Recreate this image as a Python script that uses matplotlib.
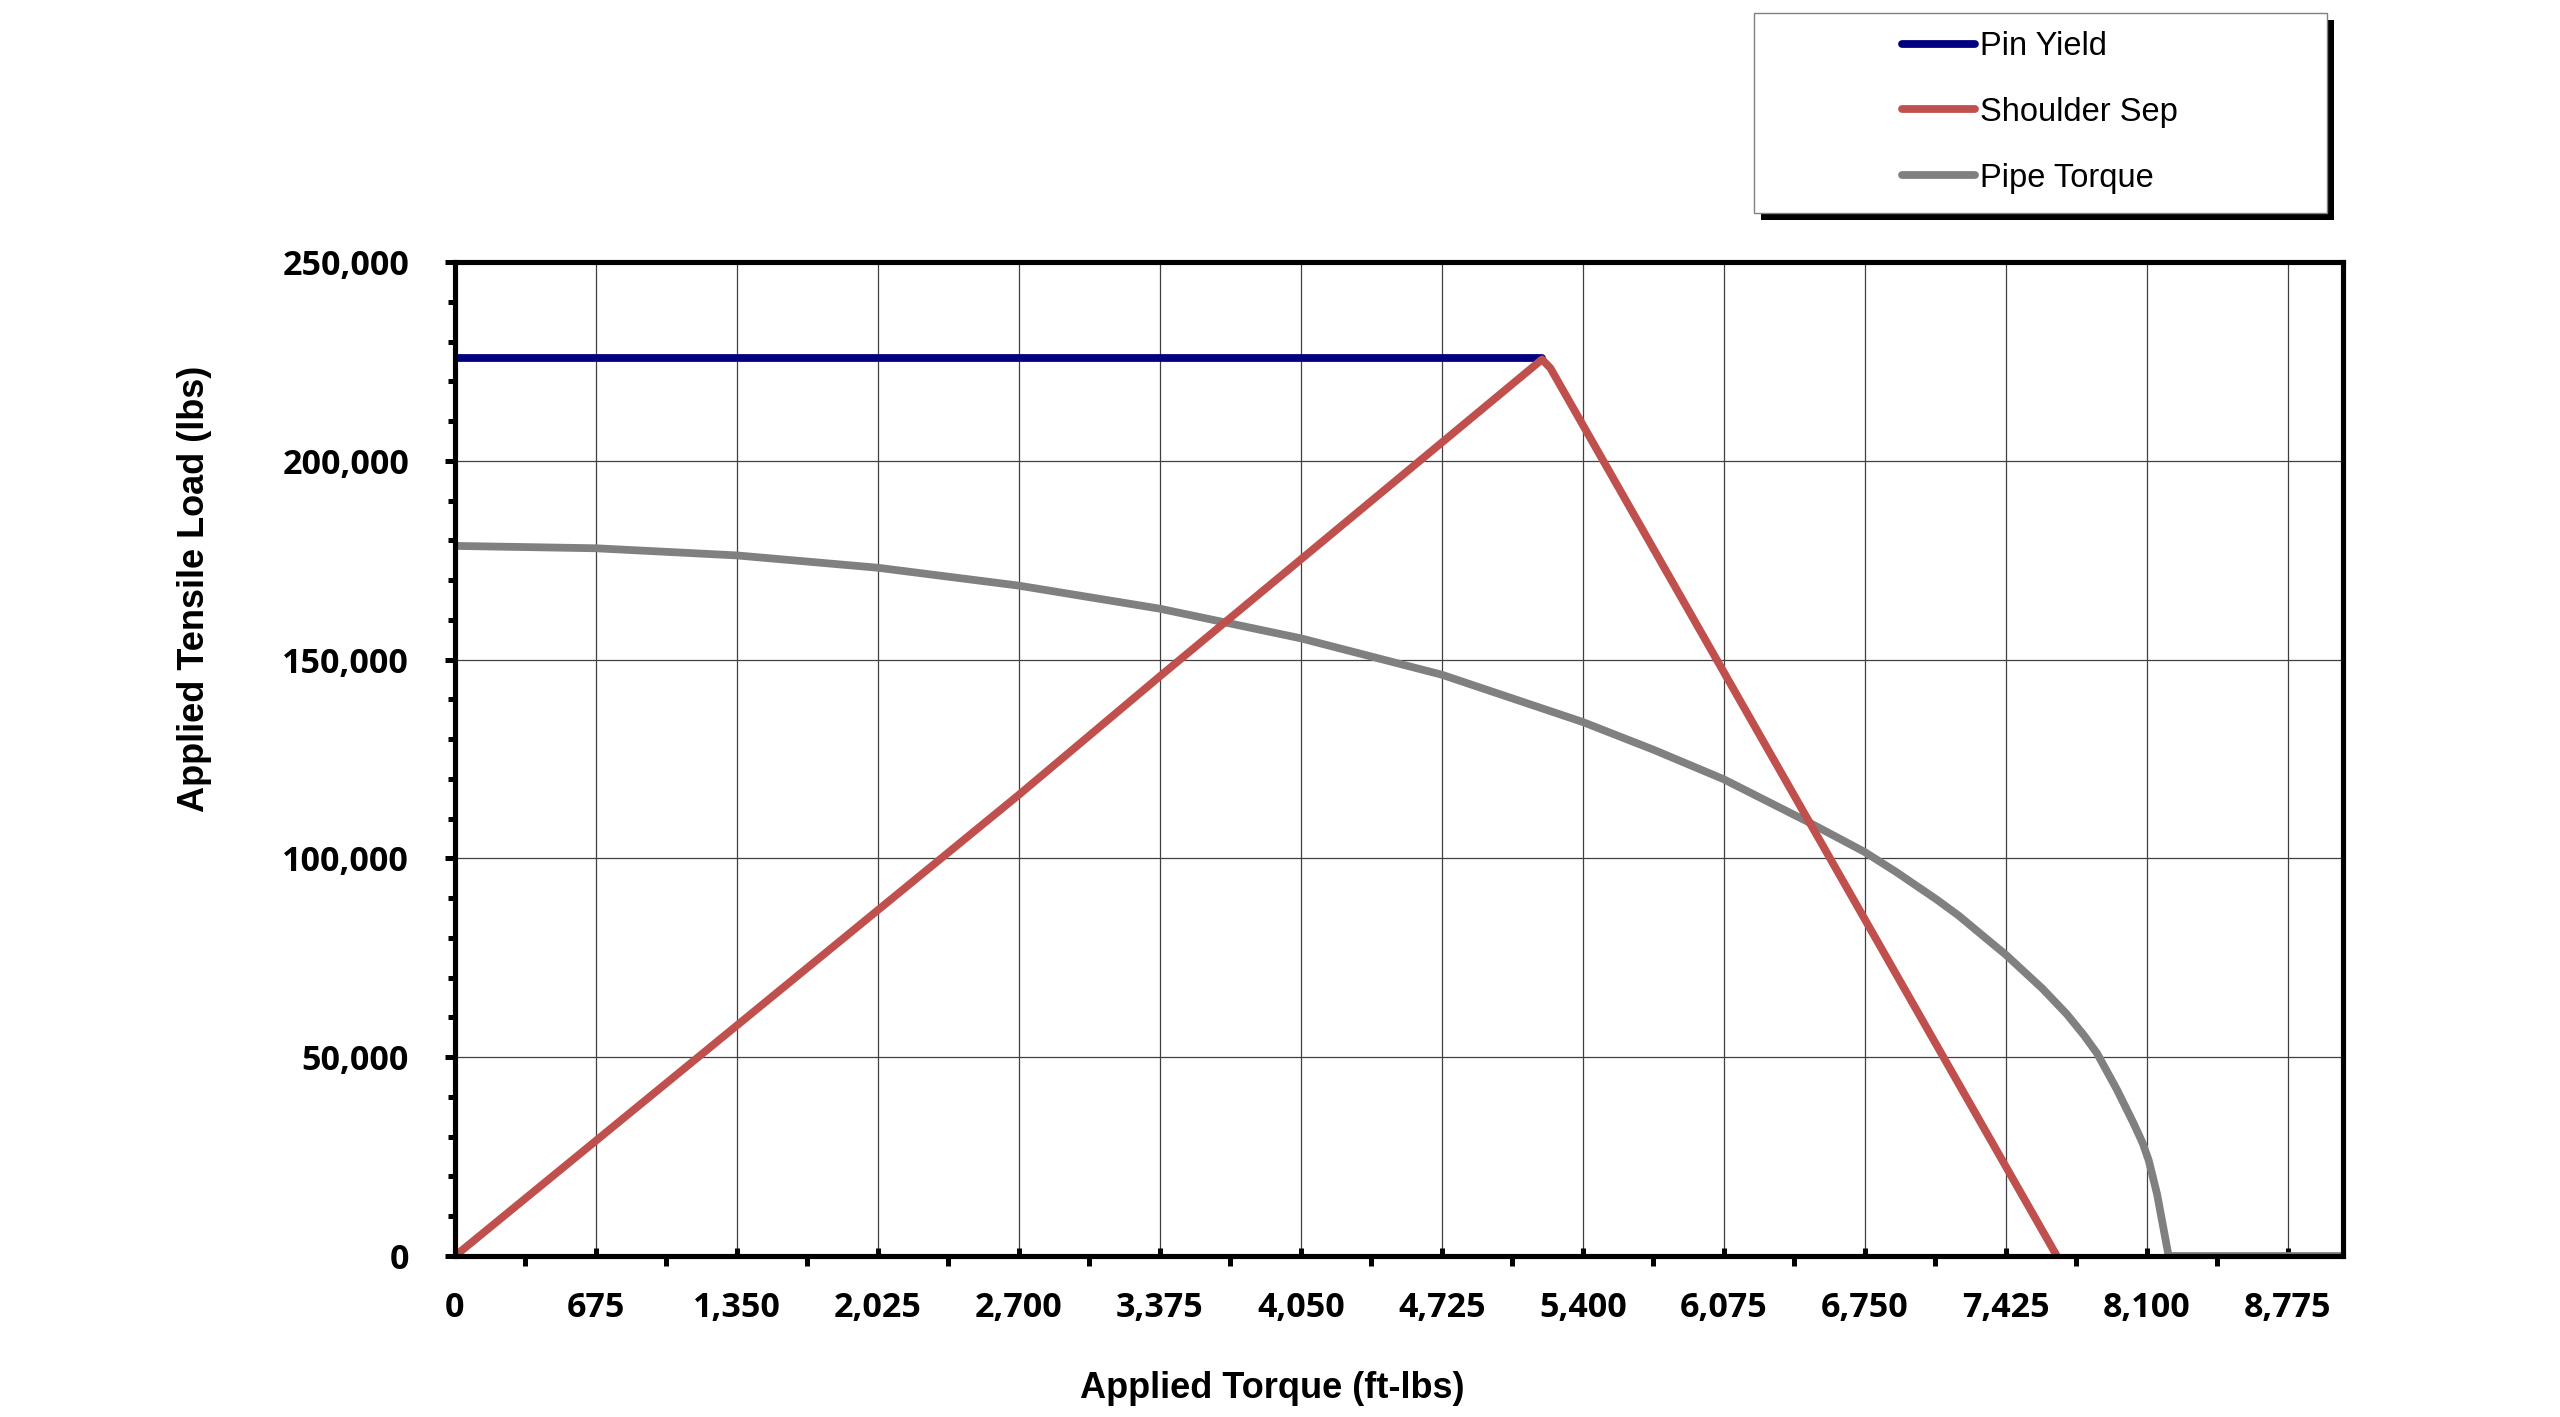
import matplotlib
matplotlib.use('Agg')
import matplotlib.pyplot as plt
from matplotlib.patches import Rectangle
from matplotlib.ticker import MultipleLocator, FuncFormatter

# DATA ##############################
pin_torque = [0, 5205]
pin_load = [225800, 225800]

sep_torque = [0, 2700, 3375, 5205, 5245, 7670]
sep_load = [0, 116000, 145800, 225500, 223300, 0]

pipe_torque = [0, 675, 1350, 2025, 2700, 3375, 4050, 4725, 5400, 5740, 6075,
               6474, 6750, 6900, 7096, 7200, 7351, 7425, 7600, 7718, 7800,
               7862, 7958, 8037, 8080, 8110, 8150, 8205, 9040]
pipe_load = [178600, 178000, 176200, 173100, 168600, 162800, 155350, 146200,
             134300, 127300, 119900, 109300, 101600, 96600, 89600, 85600,
             79000, 75800, 67300, 60800, 55500, 51000, 41800, 33400, 28500,
             24000, 15500, 0, 0]

series_names = ['Pin Yield', 'Shoulder Sep', 'Pipe Torque']
series_colors = ['#000080', '#C0504D', '#808080']

x_max = 9040
x_step = 675
y_max = 250000
y_step = 50000

# FIGURE #####
W, H = 2560, 1417
fig = plt.figure(figsize=(W / 100, H / 100), dpi=100)
ax = fig.add_axes([455 / W, 1 - 1256 / H, (2343 - 455) / W, (1256 - 262) / H])

lw = 5.6
ax.plot(pin_torque, pin_load, color=series_colors[0], lw=lw,
        solid_capstyle='round', label=series_names[0], zorder=3)
ax.plot(sep_torque, sep_load, color=series_colors[1], lw=lw,
        solid_capstyle='round', solid_joinstyle='round', label=series_names[1], zorder=4)
ax.plot(pipe_torque, pipe_load, color=series_colors[2], lw=lw,
        solid_capstyle='round', solid_joinstyle='round', label=series_names[2], zorder=3)

ax.set_xlim(0, x_max)
ax.set_ylim(0, y_max)

ax.xaxis.set_major_locator(MultipleLocator(x_step))
ax.xaxis.set_minor_locator(MultipleLocator(x_step / 2))
ax.yaxis.set_major_locator(MultipleLocator(y_step))
ax.yaxis.set_minor_locator(MultipleLocator(10000))
fmt = FuncFormatter(lambda v, p: f"{v:,.0f}")
ax.xaxis.set_major_formatter(fmt)
ax.yaxis.set_major_formatter(fmt)

ax.grid(True, which='major', color='#404040', lw=0.9, zorder=1)

for s in ax.spines.values():
    s.set_linewidth(3.7)
    s.set_color('black')
    s.set_zorder(5)

ax.tick_params(axis='x', which='major', direction='in', length=6, width=3.6,
               pad=25, labelsize=24.5, top=False)
ax.tick_params(axis='x', which='minor', direction='out', length=7, width=3.6, top=False)
ax.tick_params(axis='y', which='major', direction='out', length=7, width=3.6,
               pad=26, labelsize=24.5, right=False)
ax.tick_params(axis='y', which='minor', direction='out', length=5, width=3.6, right=False)

for lab in ax.get_xticklabels() + ax.get_yticklabels():
    lab.set_family(['Open Sans', 'DejaVu Sans'])
    lab.set_fontweight('bold')

label_font = dict(family=['Liberation Sans', 'DejaVu Sans'], fontweight='bold', fontsize=26)
ax.set_xlabel('Applied Torque (ft-lbs)', **label_font)
ax.set_ylabel('Applied Tensile Load (lbs)', **label_font)
ax.xaxis.set_label_coords((1272 - 455) / 1888, (1256 - 1388) / 994)
ax.xaxis.label.set_va('center')
ax.yaxis.set_label_coords((194 - 455) / 1888, (1256 - 589) / 994)
ax.yaxis.label.set_va('center')

# legend box with shadow (Excel style)
lx0, lx1, ly0, ly1 = 1754, 2327, 13, 213
off = 7
fig.patches.append(Rectangle(((lx0 + off) / W, 1 - (ly1 + off) / H), (lx1 - lx0) / W,
                             (ly1 - ly0) / H, transform=fig.transFigure,
                             facecolor='black', edgecolor='none', zorder=1))
fig.patches.append(Rectangle((lx0 / W, 1 - ly1 / H), (lx1 - lx0) / W, (ly1 - ly0) / H,
                             transform=fig.transFigure, facecolor='white',
                             edgecolor='#808080', lw=1.0, zorder=2))
handles, labels = ax.get_legend_handles_labels()
leg = fig.legend(handles, labels, loc='upper left',
                 bbox_to_anchor=(1902 / W, 1 - 31 / H), bbox_transform=fig.transFigure,
                 frameon=False, borderpad=0, borderaxespad=0, handlelength=2.25,
                 handletextpad=0.15, labelspacing=1.07,
                 prop=dict(family=['Liberation Sans', 'DejaVu Sans'], size=23.5))
leg.set_zorder(6)

fig.savefig('out.png', dpi=100, facecolor='white')
